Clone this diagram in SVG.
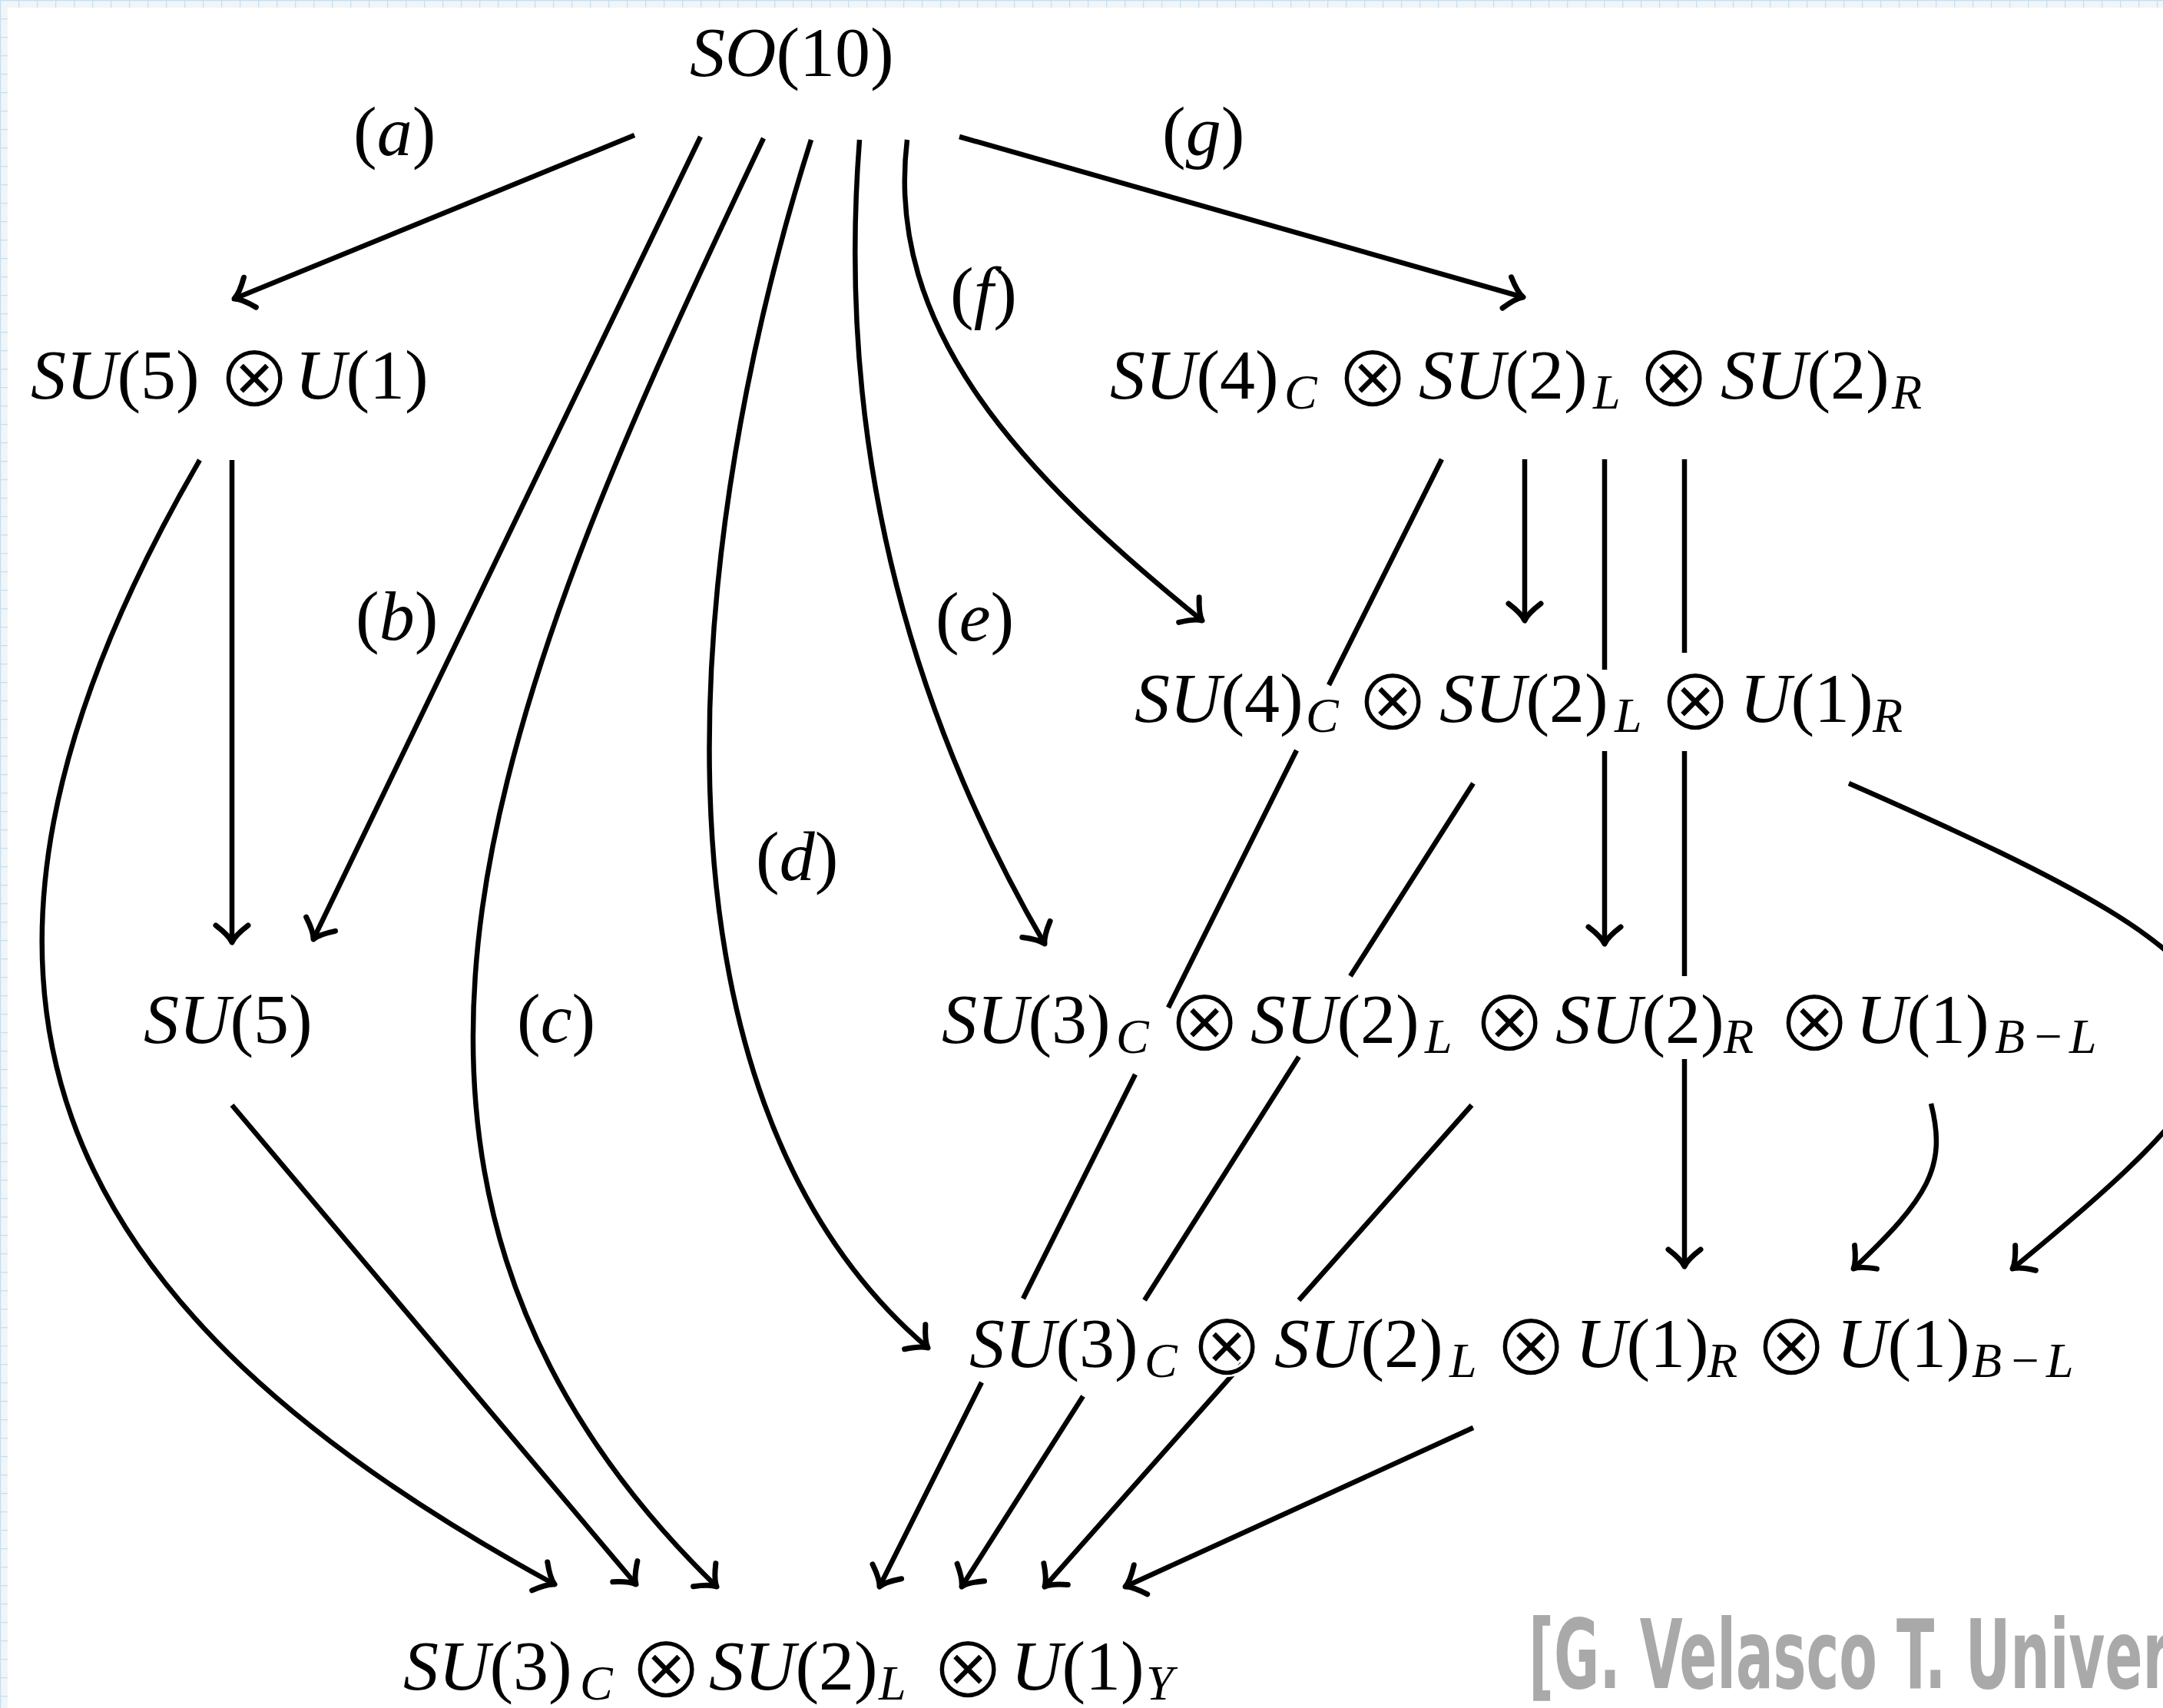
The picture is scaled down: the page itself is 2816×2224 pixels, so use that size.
<svg xmlns="http://www.w3.org/2000/svg" width="2816" height="2224" viewBox="0 0 2816 2224">
<defs>
<pattern id="grid" width="24" height="24" patternUnits="userSpaceOnUse">
<rect width="24" height="24" fill="#f2f5f7"/>
<path d="M0,0.5 H24 M0.5,0 V24" stroke="#c6dff0" stroke-width="1.5" fill="none"/>
</pattern>
<marker id="ar" markerUnits="userSpaceOnUse" viewBox="-30 -30 40 60" refX="0" refY="0" markerWidth="40" markerHeight="60" orient="auto" overflow="visible">
<path d="M-22,-21 Q-9,-4 0,0 Q-9,4 -22,21" fill="none" stroke="#000" stroke-width="7" stroke-linecap="round" stroke-linejoin="round"/>
</marker>
</defs>
<style>
.ln{fill:none;stroke:#000;stroke-width:6.5;stroke-linecap:butt}
.m{font-family:"Liberation Serif",serif;font-size:92px;fill:#000}
.i{font-style:italic}
.s{font-size:64px;font-style:italic}
.o{font-family:"DejaVu Sans",sans-serif;font-size:116px;stroke:#fff;stroke-width:3}
.wm{font-family:"DejaVu Sans Condensed","DejaVu Sans",sans-serif;font-weight:bold;font-size:124px;fill:#a9a9a9}
</style>
<rect width="2816" height="2224" fill="url(#grid)"/>
<rect x="10" y="10" width="2806" height="2214" fill="#fff"/>

<g id="connectors" class="ln">
<path d="M826,176 L305,389" marker-end="url(#ar)"/>
<path d="M1249,178 L1983,387" marker-end="url(#ar)"/>
<path d="M912,178 L408,1223" marker-end="url(#ar)"/>
<path d="M994,180 C660,885 372,1521 933,2066" marker-end="url(#ar)"/>
<path d="M1056,182 C898,678 812,1418 1208,1755" marker-end="url(#ar)"/>
<path d="M1119,182 C1088,581 1185,928 1360,1229" marker-end="url(#ar)"/>
<path d="M1181,182 C1151,430 1332,619 1565,808" marker-end="url(#ar)"/>
<path d="M302,599 L302,1227" marker-end="url(#ar)"/>
<path d="M260,599 C-142,1291 64,1704 722,2063" marker-end="url(#ar)"/>
<path d="M302,1439 L828,2063" marker-end="url(#ar)"/>
<path d="M1985,598 L1985,808" marker-end="url(#ar)"/>
<path d="M2089,598 L2089,872 M2089,978 L2089,1229" marker-end="url(#ar)"/>
<path d="M2193,598 L2193,850 M2193,978 L2193,1271 M2193,1379 L2193,1649" marker-end="url(#ar)"/>
<path d="M1877,598 L1730,892 M1688,977 L1521,1312 M1478,1399 L1332,1691 M1278,1800 L1145,2066" marker-end="url(#ar)"/>
<path d="M1918,1020 L1758,1271 M1691,1376 L1490,1693 M1410,1818 L1252,2066" marker-end="url(#ar)"/>
<path d="M1916,1439 L1691,1693 M1617,1776 L1360,2066" marker-end="url(#ar)"/>
<path d="M1918,1859 L1465,2066" marker-end="url(#ar)"/>
<path d="M2407,1020 C3000,1280 3000,1340 2620,1652" marker-end="url(#ar)"/>
<path d="M2514,1437 C2535,1520 2510,1560 2413,1652" marker-end="url(#ar)"/>
</g>

<g id="labels" class="m">
<text x="460" y="202">(<tspan class="i">a</tspan>)</text>
<text x="1513" y="202">(<tspan class="i">g</tspan>)</text>
<text x="1237" y="411">(<tspan class="i">f</tspan>)</text>
<text x="463" y="833">(<tspan class="i">b</tspan>)</text>
<text x="1218" y="834">(<tspan class="i">e</tspan>)</text>
<text x="984" y="1146">(<tspan class="i">d</tspan>)</text>
<text x="673" y="1357">(<tspan class="i">c</tspan>)</text>
</g>

<g id="so10"><text class="m" x="898" y="99"><tspan class="i">SO</tspan>(10)</text></g>

<g id="su5u1"><text class="m"><tspan x="40" y="519" class="i">SU</tspan><tspan>(5)</tspan><tspan x="331" y="529" class="o" text-anchor="middle">⊗</tspan><tspan x="384" y="519" class="i">U</tspan><tspan>(1)</tspan></text></g>

<g id="su4c2l2r"><text class="m"><tspan x="1445" y="519" class="i">SU</tspan><tspan>(4)</tspan><tspan x="1672" y="532" class="s">C</tspan><tspan x="1787" y="529" class="o" text-anchor="middle">⊗</tspan><tspan x="1847" y="519" class="i">SU</tspan><tspan>(2)</tspan><tspan x="2074" y="532" class="s">L</tspan><tspan x="2179" y="529" class="o" text-anchor="middle">⊗</tspan><tspan x="2240" y="519" class="i">SU</tspan><tspan>(2)</tspan><tspan x="2463" y="532" class="s">R</tspan></text></g>

<g id="su4c2l1r"><text class="m"><tspan x="1477" y="940" class="i">SU</tspan><tspan>(4)</tspan><tspan x="1700" y="953" class="s">C</tspan><tspan x="1813" y="950" class="o" text-anchor="middle">⊗</tspan><tspan x="1874" y="940" class="i">SU</tspan><tspan>(2)</tspan><tspan x="2102" y="953" class="s">L</tspan><tspan x="2207" y="950" class="o" text-anchor="middle">⊗</tspan><tspan x="2265" y="940" class="i">U</tspan><tspan>(1)</tspan><tspan x="2438" y="953" class="s">R</tspan></text></g>

<g id="su5"><text class="m" x="187" y="1358"><tspan class="i">SU</tspan>(5)</text></g>

<g id="su3c2l2r1bl"><text class="m"><tspan x="1226" y="1358" class="i">SU</tspan><tspan>(3)</tspan><tspan x="1453" y="1371" class="s">C</tspan><tspan x="1568" y="1368" class="o" text-anchor="middle">⊗</tspan><tspan x="1628" y="1358" class="i">SU</tspan><tspan>(2)</tspan><tspan x="1855" y="1371" class="s">L</tspan><tspan x="1965" y="1368" class="o" text-anchor="middle">⊗</tspan><tspan x="2025" y="1358" class="i">SU</tspan><tspan>(2)</tspan><tspan x="2244" y="1371" class="s">R</tspan><tspan x="2362" y="1368" class="o" text-anchor="middle">⊗</tspan><tspan x="2416" y="1358" class="i">U</tspan><tspan>(1)</tspan><tspan x="2597" y="1371" class="s">B</tspan><tspan x="2666" y="1371" class="s" font-style="normal" text-anchor="middle">−</tspan><tspan x="2694" y="1371" class="s">L</tspan></text></g>

<g id="su3c2l1r1bl"><text class="m"><tspan x="1262" y="1780" class="i">SU</tspan><tspan>(3)</tspan><tspan x="1490" y="1793" class="s">C</tspan><tspan x="1597" y="1790" class="o" text-anchor="middle">⊗</tspan><tspan x="1659" y="1780" class="i">SU</tspan><tspan>(2)</tspan><tspan x="1887" y="1793" class="s">L</tspan><tspan x="1993" y="1790" class="o" text-anchor="middle">⊗</tspan><tspan x="2051" y="1780" class="i">U</tspan><tspan>(1)</tspan><tspan x="2223" y="1793" class="s">R</tspan><tspan x="2332" y="1790" class="o" text-anchor="middle">⊗</tspan><tspan x="2391" y="1780" class="i">U</tspan><tspan>(1)</tspan><tspan x="2567" y="1793" class="s">B</tspan><tspan x="2636" y="1793" class="s" font-style="normal" text-anchor="middle">−</tspan><tspan x="2664" y="1793" class="s">L</tspan></text></g>

<g id="su3c2l1y"><text class="m"><tspan x="525" y="2200" class="i">SU</tspan><tspan>(3)</tspan><tspan x="755" y="2213" class="s">C</tspan><tspan x="867" y="2210" class="o" text-anchor="middle">⊗</tspan><tspan x="923" y="2200" class="i">SU</tspan><tspan>(2)</tspan><tspan x="1144" y="2213" class="s">L</tspan><tspan x="1260" y="2210" class="o" text-anchor="middle">⊗</tspan><tspan x="1316" y="2200" class="i">U</tspan><tspan>(1)</tspan><tspan x="1492" y="2213" class="s">Y</tspan></text></g>

<g id="watermark"><text class="wm" x="1990" y="2198" textLength="835" lengthAdjust="spacingAndGlyphs">[G. Velasco T. Univer</text></g>
</svg>
